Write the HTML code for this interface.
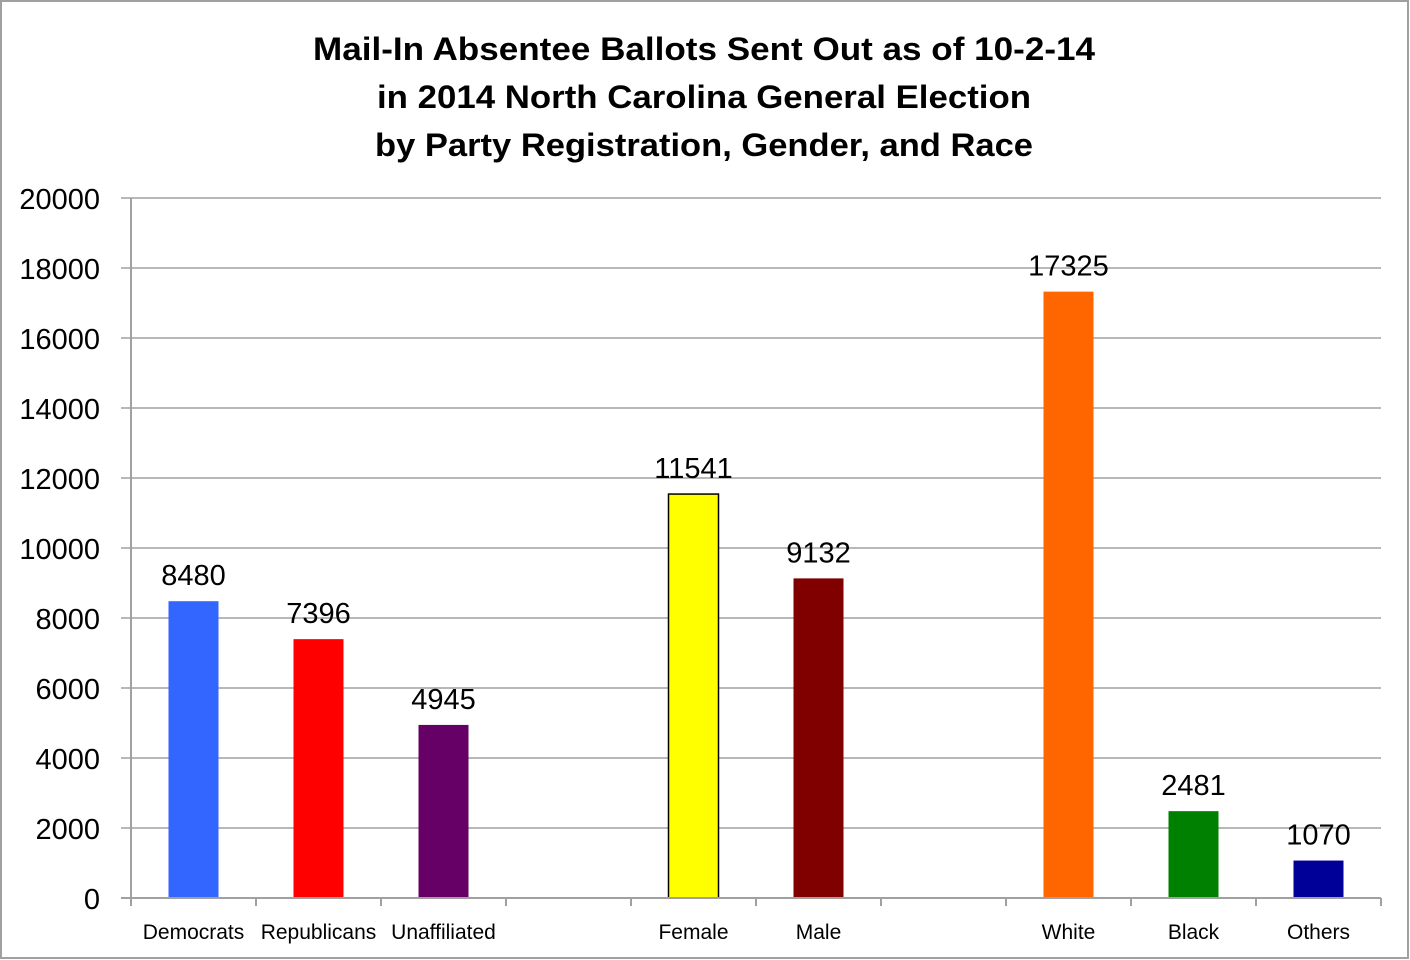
<!DOCTYPE html>
<html><head><meta charset="utf-8"><style>
body{margin:0;background:#fff}
svg{display:block;font-family:"Liberation Sans","DejaVu Sans",sans-serif}
</style></head><body>
<svg id="chart" width="1410" height="960" xmlns="http://www.w3.org/2000/svg">
<rect x="1" y="1" width="1407" height="957" fill="#fff" stroke="#a0a0a0" stroke-width="2"/>
<g font-weight="bold" font-size="32" text-anchor="middle" fill="#000">
<text x="704" y="60" textLength="782" lengthAdjust="spacingAndGlyphs">Mail-In Absentee Ballots Sent Out as of 10-2-14</text>
<text x="704" y="108" textLength="654" lengthAdjust="spacingAndGlyphs">in 2014 North Carolina General Election</text>
<text x="704" y="156" textLength="658" lengthAdjust="spacingAndGlyphs">by Party Registration, Gender, and Race</text>
</g>
<g id="grid"></g><g id="bars"></g><g id="axes"></g>
</svg>
<script>
const categories=["Democrats","Republicans","Unaffiliated","","Female","Male","","White","Black","Others"];
const values=[8480,7396,4945,null,11541,9132,null,17325,2481,1070];
const colors=["#3366ff","#ff0000","#660066",null,"#ffff00","#800000",null,"#ff6600","#008000","#000099"];
const yTicks=[0,2000,4000,6000,8000,10000,12000,14000,16000,18000,20000];
const NS="http://www.w3.org/2000/svg";
const x0=131,x1=1381,y0=898,y1=198,yMax=20000;
const slot=(x1-x0)/categories.length;
const y=v=>y0-(v/yMax)*(y0-y1);
const xc=i=>x0+slot*(i+0.5);
function mk(t,a,p){const e=document.createElementNS(NS,t);for(const k in a)e.setAttribute(k,a[k]);p.appendChild(e);return e;}
const grid=document.getElementById('grid'),bars=document.getElementById('bars'),axes=document.getElementById('axes');
yTicks.forEach(v=>{
  if(v>0){const l=mk('line',{x1:x0,x2:x1,y1:y(v),y2:y(v),stroke:'#a0a0a0','stroke-width':1.5},grid);
  
  }
  const t=mk('line',{x1:x0-10,x2:x0,y1:y(v),y2:y(v),stroke:'#a0a0a0','stroke-width':1.5},axes);
  
  
  const tx=mk('text',{x:100,y:y(v)+11,'font-size':29,'text-anchor':'end',fill:'#000'},axes);tx.textContent=v;
  
  
});
const ax=mk('line',{x1:x0,x2:x0,y1:y1,y2:y0,stroke:'#a0a0a0','stroke-width':2},axes);


const bx=mk('line',{x1:x0-10,x2:x1,y1:y0,y2:y0,stroke:'#a0a0a0','stroke-width':2},axes);


for(let i=0;i<=categories.length;i++){
  const t=mk('line',{x1:x0+slot*i,x2:x0+slot*i,y1:y0,y2:y0+8,stroke:'#a0a0a0','stroke-width':2},axes);
  
  
}
categories.forEach((c,i)=>{
  if(c){const t=mk('text',{x:xc(i),y:939,'font-size':21,'text-anchor':'middle',fill:'#000'},axes);t.textContent=c;
  
  }
  const v=values[i];if(v==null)return;
  const w=50;
  const r=mk('rect',{x:xc(i)-w/2,y:y(v),width:w,height:y0-y(v),fill:colors[i]},bars);
  if(c==='Female'){r.setAttribute('stroke','#000');r.setAttribute('stroke-width','1.5');}
  
  
  const l=mk('text',{x:xc(i),y:y(v)-16,'font-size':29,'text-anchor':'middle',fill:'#000'},bars);l.textContent=v;
  
  
});
</script>
</body></html>
